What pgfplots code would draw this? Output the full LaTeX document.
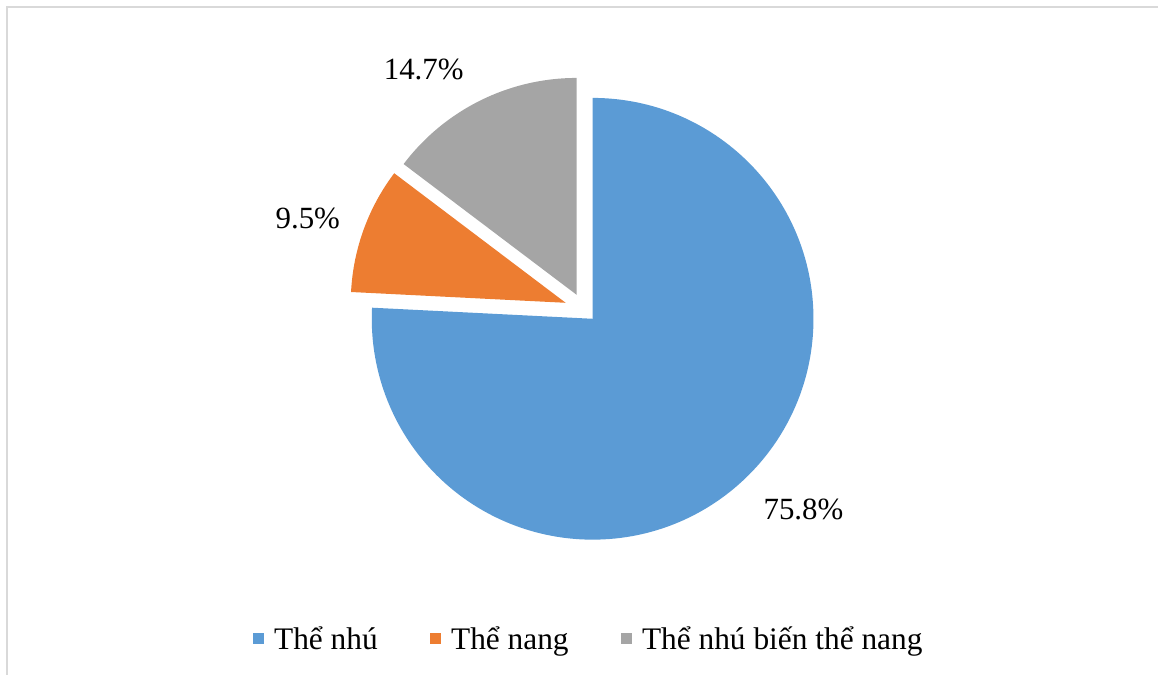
\documentclass[border=0pt]{standalone}
\usepackage{pgfplots}
\pgfplotsset{compat=1.18}
\usepackage{fontspec}
\setmainfont{Liberation Serif}
\definecolor{cBlue}{HTML}{5B9BD5}
\definecolor{cOrange}{HTML}{ED7D31}
\definecolor{cGray}{HTML}{A5A5A5}
\definecolor{cFrame}{HTML}{D9D9D9}
% data (percent)
\def\vBlue{75.8}
\def\vOrange{9.5}
\def\vGray{14.7}
\pgfmathsetmacro\aA{90}
\pgfmathsetmacro\aB{\aA-3.6*\vBlue}
\pgfmathsetmacro\aC{\aB-3.6*\vOrange}
\pgfmathsetmacro\aD{\aC-3.6*\vGray}
\begin{document}
\begin{tikzpicture}
\begin{axis}[
  x=1bp, y=1bp,
  xmin=0, xmax=1159, ymin=0, ymax=675,
  hide axis, clip=false,
  legend columns=3,
  legend style={draw=none, fill=none, at={(axis cs:588,36)}, anchor=center,
    font=\fontsize{31.5}{36}\selectfont,
    nodes={inner xsep=0bp, inner ysep=2bp},
    /tikz/every odd column/.append style={column sep=11bp},
    /tikz/every even column/.append style={column sep=52bp}},
]
\path (axis cs:0,0) rectangle (axis cs:1159,675);
\draw[cFrame, line width=1.5bp] (axis cs:7,0) -- (axis cs:7,668) -- (axis cs:1159,668);
% slices
\fill[cBlue] (axis cs:593,356) -- ++(\aA:221bp) arc[start angle=\aA, end angle=\aB, radius=221bp] -- cycle;
\fill[cOrange] (axis cs:566,372) -- ++(\aB:215bp) arc[start angle=\aB, end angle=\aC, radius=215bp] -- cycle;
\fill[cGray] (axis cs:577,380) -- ++(\aC:217bp) arc[start angle=\aC, end angle=\aD, radius=217bp] -- cycle;
% data labels
\node[anchor=base, font=\fontsize{31}{36}\selectfont, inner sep=0pt] at (axis cs:804,155) {\vBlue\%};
\node[anchor=base, font=\fontsize{31}{36}\selectfont, inner sep=0pt] at (axis cs:308,446) {\vOrange\%};
\node[anchor=base, font=\fontsize{31}{36}\selectfont, inner sep=0pt] at (axis cs:424,595) {\vGray\%};
% legend
\addlegendimage{legend image code/.code={\fill[cBlue] (0bp,-5bp) rectangle (10bp,5bp);}}
\addlegendentry{Thể nhú}
\addlegendimage{legend image code/.code={\fill[cOrange] (0bp,-5bp) rectangle (10bp,5bp);}}
\addlegendentry{Thể nang}
\addlegendimage{legend image code/.code={\fill[cGray] (0bp,-5bp) rectangle (10bp,5bp);}}
\addlegendentry{Thể nhú biến thể nang}
\end{axis}
\end{tikzpicture}
\end{document}
